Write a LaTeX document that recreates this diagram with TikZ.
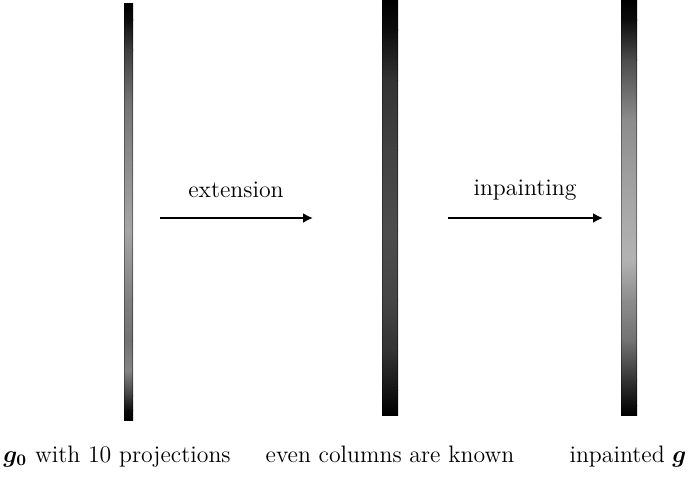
\documentclass[tikz,border=0pt]{standalone}
\usepackage{bm}
\usetikzlibrary{arrows.meta}
\begin{document}
\begin{tikzpicture}[x=0.5pt,y=-0.5pt,
  lbl/.style={inner sep=0pt,font=\fontsize{11.9}{14}\selectfont},
  flow/.style={line width=1pt,-{Latex[length=5pt,width=5pt]}},
  edge/.style={black,opacity=0.35,line width=0.8pt}]
\useasboundingbox (0,0) rectangle (688,476);
% strip 1
\foreach \ya/\yb/\ca/\cb in {4/20/100/95,20/50/95/75,50/100/75/55,100/160/55/45,160/230/45/35,230/300/35/50,300/340/50/55,340/370/55/48,370/395/48/75,395/410/75/95,410/420/95/100}
  \shade[top color=black!\ca,bottom color=black!\cb] (124,\ya) rectangle (133,\yb+0.6);
\draw[edge] (124.4,4) -- (124.4,420) (132.6,4) -- (132.6,420);
% strip 2
\foreach \ya/\yb/\ca/\cb in {0/30/100/95,30/80/95/80,80/150/80/74,150/230/74/70,230/300/70/73,300/350/73/80,350/390/80/92,390/415/92/100}
  \shade[top color=black!\ca,bottom color=black!\cb] (382,\ya) rectangle (398,\yb+0.6);
\draw[edge] (382.5,0) -- (382.5,415) (397.5,0) -- (397.5,415);
% strip 3
\foreach \ya/\yb/\ca/\cb in {0/20/100/95,20/60/95/70,60/120/70/45,120/200/45/35,200/260/35/30,260/300/30/45,300/340/45/55,340/380/55/80,380/405/80/95,405/415/95/100}
  \shade[top color=black!\ca,bottom color=black!\cb] (621,\ya) rectangle (637,\yb+0.6);
\draw[edge] (621.5,0) -- (621.5,415) (636.5,0) -- (636.5,415);
% arrows
\coordinate (a1s) at (160,218);
\coordinate (a1e) at (313,218);
\coordinate (a2s) at (448,218);
\coordinate (a2e) at (603,218);
\draw[flow] (a1s) -- (a1e);
\draw[flow] (a2s) -- (a2e);
\node[lbl,anchor=base] (t1) at (236,197) {extension};
\node[lbl,anchor=base] (t2) at (525,195) {inpainting};
% captions
\node[lbl,anchor=base] (c1) at (117,462) {$\bm{g}_{\mathbf{0}}$ with 10 projections};
\node[lbl,anchor=base] (c2) at (390,462) {even columns are known};
\node[lbl,anchor=base] (c3) at (628,462) {inpainted $\bm{g}$};
\end{tikzpicture}
\end{document}
